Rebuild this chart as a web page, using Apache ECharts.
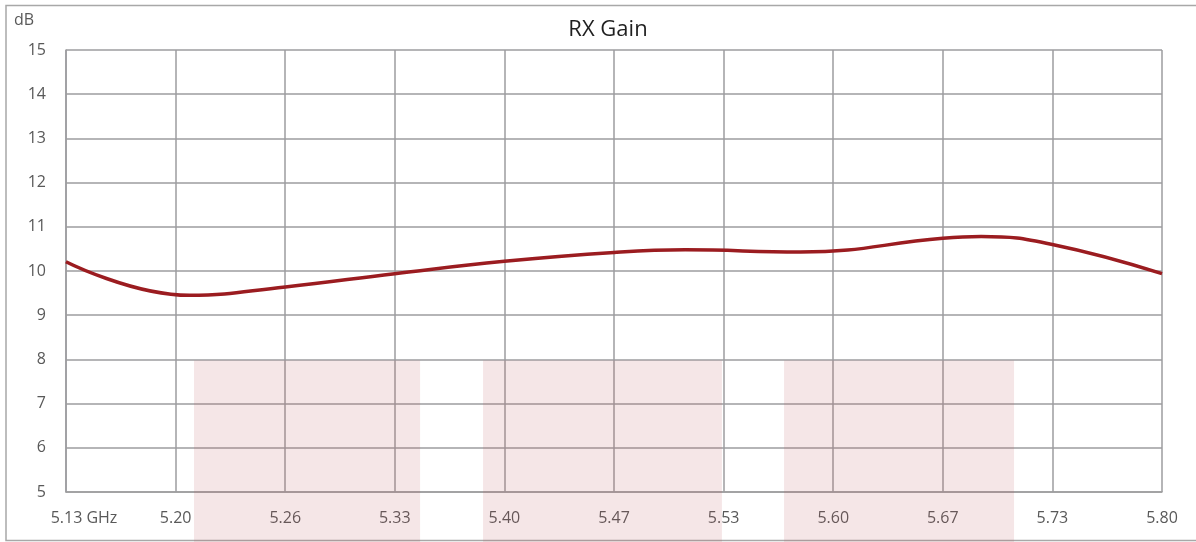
<!DOCTYPE html>
<html>
<head>
<meta charset="utf-8">
<script src="https://cdn.jsdelivr.net/npm/echarts@6/dist/echarts.min.js"></script>
<style>
html,body{margin:0;padding:0;background:#fff;}
#chart{width:1196px;height:542px;}
</style>
</head>
<body>
<div id="chart"></div>
<script>
// ---- data ----
var tickLabels = ['5.13 GHz','5.20','5.26','5.33','5.40','5.47','5.53','5.60','5.67','5.73','5.80'];
var freqGHz   = [5.1333, 5.2083, 5.2667, 5.3333, 5.4000, 5.4667, 5.5100, 5.5800, 5.6667, 5.6900, 5.7333, 5.8000];
var gainDb    = [10.21,  9.45,   9.64,   9.94,   10.22,  10.42,  10.48,  10.43,  10.74,  10.78,  10.60,  9.94];
var bandStart = [5.2112, 5.3870, 5.5701];
var bandEnd   = [5.3487, 5.5323, 5.7100];
var bandTopDb = [8, 8, 8];

// axis runs in tick units (one unit per 1/15 GHz step, 0 at 5.1333 GHz)
function toAxis(f){ return f * 15 - 77; }

var lineData = freqGHz.map(function(f,i){ return [toAxis(f), gainDb[i]]; });
var bandData = bandStart.map(function(s,i){ return [toAxis(s), toAxis(bandEnd[i]), bandTopDb[i]]; });

var FONT = '"Open Sans", "Noto Sans", sans-serif';
var GRID_COLOR = '#9d9d9f';
var LABEL_COLOR = '#595959';

var chart = echarts.init(document.getElementById('chart'), null, {renderer:'canvas'});
chart.setOption({
  animation: false,
  backgroundColor: '#ffffff',
  title: [
    {text: 'RX Gain', left: 603, top: 14, textAlign: 'center',
     textStyle: {fontFamily: FONT, fontSize: 22, fontWeight: 'normal', color: '#1f1f1f'}},
    {text: 'dB', left: 9, top: 7, padding: 5,
     textStyle: {fontFamily: FONT, fontSize: 16, fontWeight: 'normal', color: LABEL_COLOR}}
  ],
  graphic: [{
    type: 'rect', silent: true, z: -10,
    shape: {x: 6, y: 5.5, width: 1300, height: 535},
    style: {fill: 'none', stroke: '#a8a8a8', lineWidth: 1.5}
  }],
  grid: {left: 66, right: 34, top: 50, bottom: 50, show: false},
  xAxis: {
    type: 'value', min: 0, max: 10, interval: 1,
    axisLine: {show: true, onZero: false, lineStyle: {color: GRID_COLOR, width: 1.5}},
    axisTick: {show: false},
    splitLine: {show: true, lineStyle: {color: GRID_COLOR, width: 1.5}},
    axisLabel: {
      margin: 18, fontFamily: FONT, fontSize: 16, color: LABEL_COLOR,
      formatter: function(v){
        var i = Math.round(v);
        return i === 0 ? '{first|' + tickLabels[i] + '}' : tickLabels[i];
      },
      rich: {first: {fontFamily: FONT, fontSize: 16, color: LABEL_COLOR, padding: [0,0,0,36]}}
    }
  },
  yAxis: {
    type: 'value', min: 5, max: 15, interval: 1,
    axisLine: {show: true, lineStyle: {color: GRID_COLOR, width: 1.5}},
    axisTick: {show: false},
    splitLine: {show: true, lineStyle: {color: GRID_COLOR, width: 1.5}},
    axisLabel: {margin: 20, fontFamily: FONT, fontSize: 16, color: LABEL_COLOR}
  },
  series: [
    {
      type: 'custom',
      clip: false,
      z: 1,
      silent: true,
      data: bandData,
      encode: {x: [0,1], y: 2},
      renderItem: function(params, api){
        var p1 = api.coord([api.value(0), api.value(2)]);
        var p2 = api.coord([api.value(1), api.value(2)]);
        var bottom = api.getHeight();
        return {
          type: 'rect',
          shape: {x: p1[0], y: p1[1] + 1, width: p2[0] - p1[0], height: bottom - p1[1] - 1},
          style: {fill: 'rgba(190,90,95,0.15)'}
        };
      }
    },
    {
      type: 'line',
      z: 3,
      data: lineData,
      smooth: 0.45,
      showSymbol: false,
      symbol: 'none',
      lineStyle: {color: '#9b1c20', width: 3.5}
    }
  ]
});
</script>
</body>
</html>
